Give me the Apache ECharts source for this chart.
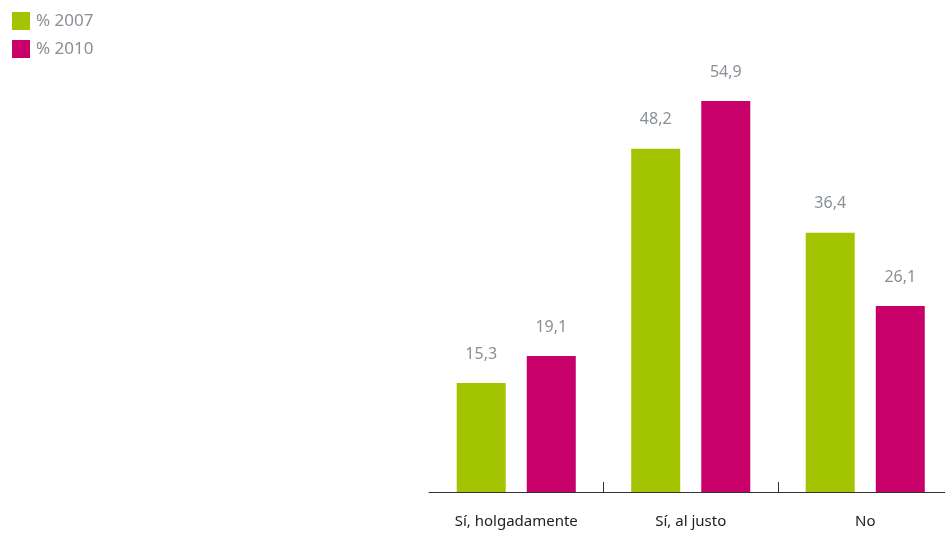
<!DOCTYPE html>
<html><head><meta charset="utf-8">
<script src="https://cdn.jsdelivr.net/npm/echarts@6/dist/echarts.min.js"></script>
<style>html,body{margin:0;padding:0;background:#fff;overflow:hidden}#c{width:953px;height:533px}</style>
</head><body><div id="c"></div>
<script>
const categories = ['Sí, holgadamente', 'Sí, al justo', 'No'];
const series2007 = [15.3, 48.2, 36.4];
const series2010 = [19.1, 54.9, 26.1];
const seriesNames = ['% 2007', '% 2010'];

const chart = echarts.init(document.getElementById('c'));
const fmt = p => String(p.value).replace('.', ',');
const lbl = {show: true, position: 'top', distance: 21, color: '#8a8f96', fontSize: 16, fontFamily: 'Noto Sans', formatter: fmt};
chart.setOption({
  animation: false,
  legend: {
    orient: 'vertical', left: 7, top: 7, itemWidth: 18, itemHeight: 18, itemGap: 10,
    icon: 'rect', textStyle: {color: '#8a8f96', fontSize: 17, fontFamily: 'Noto Sans', padding: [0,0,0,1]},
    data: seriesNames
  },
  grid: {left: 429, right: 0.5, top: 64.7, height: 427.3, containLabel: false},
  xAxis: {
    type: 'category', data: categories,
    axisLine: {lineStyle: {color: '#333', width: 1}},
    axisTick: {show: true, inside: true, length: 10, interval: function (i) { return i > 0; }, lineStyle: {color: '#333', width: 1}},
    axisLabel: {color: '#222', fontSize: 15, fontFamily: 'Noto Sans', margin: 22}
  },
  yAxis: {type: 'value', min: 0, max: 60, show: false, splitLine: {show: false}},
  series: [
    {name: seriesNames[0], type: 'bar', data: series2007, barWidth: 49, barGap: '43%', itemStyle: {color: '#a3c400'}, label: lbl},
    {name: seriesNames[1], type: 'bar', data: series2010, barWidth: 49, itemStyle: {color: '#c8006a'}, label: lbl}
  ]
});
</script></body></html>
